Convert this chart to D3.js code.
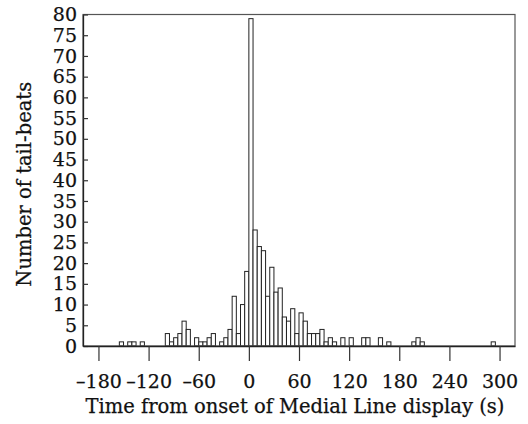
<!DOCTYPE html>
<html><head><meta charset="utf-8">
<script src="https://cdn.jsdelivr.net/npm/d3@7"></script>
<style>
body{margin:0;background:#fff;}
text{font-family:"DejaVu Serif",serif;fill:#111;stroke:#111;stroke-width:0.25px;}
</style></head>
<body><svg id="c" width="528" height="424"></svg>
<script>
// Bin start times (s), bins are 5 s wide
const binStarts = [-155,-145,-140,-130,-100,-95,-90,-85,-80,-75,-65,-60,-55,-50,-45,-35,-30,-25,-20,-15,-10,-5,
  0,5,10,15,20,25,30,35,40,45,50,55,60,65,70,75,80,85,90,95,100,110,120,135,140,155,165,195,200,205,290];
const counts    = [1,1,1,1,3,1,2,3,6,4,2,1,1,2,3,1,2,4,12,3,10,18,
  79,28,24,23,12,19,13,14,7,6,9,3,8,6,3,3,3,4,1,2,1,2,2,2,2,2,1,1,2,1,1];
const binWidth = 5;
const xTicks = [-180,-120,-60,0,60,120,180,240,300];
const yTicks = [0,5,10,15,20,25,30,35,40,45,50,55,60,65,70,75,80];
const xTitle = "Time from onset of Medial Line display (s)";
const yTitle = "Number of tail-beats";

const L=83, R=515, T=14.5, B=346;
const svg = d3.select("#c");
const x = d3.scaleLinear().domain([-198.5,318.5]).range([L,R]);
const y = d3.scaleLinear().domain([0,80]).range([B,T]);

// bars
svg.append("g").selectAll("rect").data(binStarts).join("rect")
  .attr("x",(d)=>x(d)).attr("width",(d)=>x(d+binWidth)-x(d))
  .attr("y",(d,i)=>y(counts[i])).attr("height",(d,i)=>B-y(counts[i]))
  .attr("fill","#fff").attr("stroke","#222").attr("stroke-width",1);

// frame
svg.append("rect").attr("x",L).attr("y",T).attr("width",R-L).attr("height",B-T)
  .attr("fill","none").attr("stroke","#555").attr("stroke-width",1.2);

// y axis
const ya = svg.append("g").attr("transform",`translate(${L},0)`)
  .call(d3.axisLeft(y).tickValues(yTicks).tickSizeInner(-5).tickSizeOuter(0).tickPadding(6));
ya.select(".domain").attr("stroke","#222").attr("stroke-width",1.3);
ya.selectAll(".tick line").attr("stroke","#333").attr("stroke-width",1.2);
ya.selectAll("text").style("font-size","19px").attr("fill","#111");

// x axis
const xa = svg.append("g").attr("transform",`translate(0,${B})`)
  .call(d3.axisBottom(x).tickValues(xTicks).tickSizeInner(15).tickSizeOuter(0).tickPadding(14)
    .tickFormat(d=> d<0 ? "\u2013"+Math.abs(d) : String(d)));
xa.select(".domain").attr("stroke","#222").attr("stroke-width",1.3);
xa.selectAll(".tick line").attr("stroke","#333").attr("stroke-width",1.2);
xa.selectAll("text").style("font-size","19px").attr("fill","#111");

// titles
svg.append("text").attr("x",(L+R)/2-4).attr("y",413).attr("text-anchor","middle")
  .style("font-size","19.5px").text(xTitle);
svg.append("text").attr("transform",`translate(31,${(T+B)/2+4}) rotate(-90)`).attr("text-anchor","middle")
  .style("font-size","19.5px").text(yTitle);
</script></body></html>
